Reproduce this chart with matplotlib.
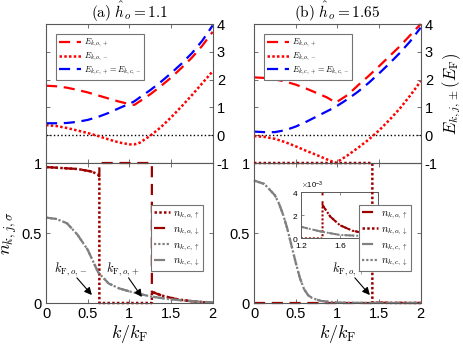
import matplotlib
matplotlib.use('Agg')
import matplotlib.pyplot as plt
import numpy as np

plt.rcParams['font.family'] = 'Liberation Sans'
plt.rcParams['mathtext.fontset'] = 'cm'

# ---- energies (top panels) ----
k_top = [0, 0.125, 0.25, 0.375, 0.5, 0.625, 0.75, 0.875, 1.0, 1.06, 1.125,
         1.25, 1.375, 1.5, 1.625, 1.75, 1.875, 2.0]
Ec_a = [0.43, 0.43, 0.44, 0.48, 0.55, 0.66, 0.80, 0.97, 1.13, 1.22, 1.36,
        1.62, 1.91, 2.23, 2.57, 2.95, 3.40, 3.95]
Eop_a = [1.78, 1.76, 1.71, 1.63, 1.54, 1.43, 1.32, 1.21, 1.12, 1.09, 1.22,
         1.47, 1.76, 2.07, 2.42, 2.79, 3.22, 3.72]
Eom_a = [0.36, 0.33, 0.26, 0.17, 0.08, -0.03, -0.15, -0.26, -0.33, -0.33, -0.27,
         -0.02, 0.28, 0.64, 1.03, 1.44, 1.87, 2.30]

k_top_b = [0, 0.125, 0.25, 0.375, 0.5, 0.625, 0.75, 0.875, 0.98, 1.125,
           1.25, 1.375, 1.5, 1.625, 1.75, 1.875, 2.0]
Ec_b = [0.13, 0.11, 0.11, 0.18, 0.31, 0.48, 0.67, 0.86, 1.02, 1.30,
        1.57, 1.88, 2.22, 2.58, 2.96, 3.38, 3.87]
Eop_b = [2.08, 2.06, 2.01, 1.93, 1.82, 1.68, 1.52, 1.36, 1.17, 1.45,
         1.80, 2.13, 2.48, 2.84, 3.20, 3.60, 4.0]
Eom_b = [-0.03, -0.06, -0.13, -0.25, -0.40, -0.56, -0.71, -0.87, -1.0, -0.72,
         -0.45, -0.16, 0.17, 0.55, 0.96, 1.43, 1.94]

# ---- occupations (bottom panels) ----
# panel (a)
k_na = [0, 0.38, 0.54, 0.62, 0.64, 0.64, 1.27, 1.27, 1.35, 1.42, 1.5, 1.58,
        1.7, 1.8, 1.9, 2.0]
n_up_a = [0.971, 0.957, 0.940, 0.921, 0.904, 0, 0, 0.08, 0.062, 0.048, 0.037,
          0.026, 0.016, 0.010, 0.005, 0.003]
n_dn_a = [0.971, 0.957, 0.940, 0.921, 0.904, 1, 1, 0.08, 0.062, 0.048, 0.037,
          0.026, 0.016, 0.010, 0.005, 0.003]
k_ca = [0, 0.125, 0.25, 0.375, 0.5, 0.625, 0.75, 0.875, 1.0, 1.125, 1.25,
        1.375, 1.5, 1.625, 1.75, 1.875, 2.0]
n_c_a = [0.61, 0.60, 0.57, 0.49, 0.38, 0.22, 0.14, 0.105, 0.083, 0.064, 0.048,
         0.036, 0.026, 0.019, 0.013, 0.008, 0.005]

# panel (b)
k_nb = [0, 1.42, 1.42, 1.5, 1.6, 1.73, 1.9, 2.0]
n_up_b = [0, 0, 0.0029, 0.0019, 0.00115, 0.00067, 0.00038, 0.00029]
n_dn_b = [1, 1, 0.0029, 0.0019, 0.00115, 0.00067, 0.00038, 0.00029]
k_cb = [0, 0.125, 0.25, 0.3, 0.35, 0.4, 0.45, 0.5, 0.55, 0.6, 0.65, 0.7,
        0.8, 1.0, 1.2, 1.4, 1.6, 2.0]
n_c_b = [0.875, 0.85, 0.77, 0.71, 0.63, 0.53, 0.41, 0.29, 0.18, 0.10, 0.055,
         0.035, 0.015, 0.003, 0.0010, 0.0006, 0.0003, 0.00014]

titles = [r'$\mathrm{(a)}\ \hat{h}_o\mathrm{=1.1}$', r'$\mathrm{(b)}\ \hat{h}_o\mathrm{=1.65}$']

red = '#ff0000'
blue = '#0000ff'
dred = '#9b0000'
gray = '0.5'
spine = '0.35'
DASH = (0, (5, 3))
DOT = (0, (1, 0.9))

fig = plt.figure(figsize=(4.63, 3.48), dpi=100)

lefts = [0.0994, 0.5486]
w = 0.36


def style(ax):
    for s in ax.spines.values():
        s.set_color(spine)
        s.set_linewidth(0.8)
    ax.tick_params(direction='in', length=3, width=0.6, color=spine,
                   top=True, right=True, labelsize=10.5, pad=3)
    ax.set_xlim(0, 2)
    ax.set_xticks([0, 0.5, 1, 1.5, 2])


tops = []
bots = []
for i in range(2):
    at = fig.add_axes([lefts[i], 0.5316, w, 0.3994])
    ab = fig.add_axes([lefts[i], 0.1293, w, 0.4023])
    style(at)
    style(ab)
    at.set_ylim(-1, 4)
    at.set_yticks([-1, 0, 1, 2, 3, 4])
    at.set_yticklabels(['-1', '0', '1', '2', '3', '4'])
    at.tick_params(labelleft=False, labelright=True, labelbottom=False)
    at.set_title(titles[i], fontsize=11, pad=3)
    at.axhline(0, color='k', ls=':', lw=1.0)
    ab.set_ylim(0, 1)
    ab.set_yticks([0, 0.5, 1])
    ab.set_yticklabels(['0', '0.5', '1'])
    ab.set_xticklabels(['0', '0.5', '1', '1.5', '2'])
    ab.set_xlabel(r'$k/k_\mathrm{F}$', fontsize=13, labelpad=1)
    tops.append(at)
    bots.append(ab)

# top panels
for ax, kk, eop, eom, ec in [(tops[0], k_top, Eop_a, Eom_a, Ec_a),
                             (tops[1], k_top_b, Eop_b, Eom_b, Ec_b)]:
    ax.plot(kk, eop, color=red, ls=DASH, lw=1.6, label=r'$E_{k,o,+}$', clip_on=False)
    ax.plot(kk, eom, color=red, ls=DOT, lw=1.8, label=r'$E_{k,o,-}$', clip_on=False)
    ax.plot(kk, ec, color=blue, ls=DASH, lw=1.6,
            label=r'$E_{k,c,+}=E_{k,c,-}$', clip_on=False)
    lg = ax.legend(loc='upper left', bbox_to_anchor=(0.06, 0.93), fontsize=6,
                   handlelength=2.6, handletextpad=0.4, borderpad=0.35,
                   labelspacing=0.15, fancybox=False, framealpha=1,
                   borderaxespad=0)
    lg.get_frame().set_edgecolor('0.45')
    lg.get_frame().set_linewidth(0.8)

tops[1].set_ylabel(r'$E_{k,j,\pm}(E_\mathrm{F})$', fontsize=12, labelpad=2)
tops[1].yaxis.set_label_position('right')

# bottom (a)
ax = bots[0]
ax.plot(k_na, n_up_a, color=dred, ls=DOT, lw=1.8, label=r'$n_{k,o,\uparrow}$', clip_on=False)
ax.plot(k_na, n_dn_a, color=dred, ls=(0, (5, 3)), lw=1.6, label=r'$n_{k,o,\downarrow}$', clip_on=False)
ax.plot(k_ca, n_c_a, color=gray, ls=DOT, lw=1.6, label=r'$n_{k,c,\uparrow}$', clip_on=False)
ax.plot(k_ca, n_c_a, color=gray, ls=(0, (5, 3)), lw=1.6, label=r'$n_{k,c,\downarrow}$', clip_on=False)
ax.set_ylabel(r'$n_{k,j,\sigma}$', fontsize=13, labelpad=2)

# bottom (b)
ax = bots[1]
ax.plot(k_nb, n_up_b, color=dred, ls=(0, (5, 3)), lw=1.6, label=r'$n_{k,o,\uparrow}$', clip_on=False)
ax.plot(k_nb, n_dn_b, color=dred, ls=DOT, lw=1.8, label=r'$n_{k,o,\downarrow}$', clip_on=False)
ax.plot(k_cb, n_c_b, color=gray, ls=(0, (5, 3)), lw=1.6, label=r'$n_{k,c,\uparrow}$', clip_on=False)
ax.plot(k_cb, n_c_b, color=gray, ls=DOT, lw=1.6, label=r'$n_{k,c,\downarrow}$', clip_on=False)

for ax in bots:
    lg = ax.legend(loc='upper left', bbox_to_anchor=(0.63, 0.70), fontsize=7.5,
                   handlelength=1.5, handletextpad=0.3, borderpad=0.3,
                   labelspacing=0.25, fancybox=False, framealpha=1,
                   borderaxespad=0)
    lg.get_frame().set_edgecolor('0.45')
    lg.get_frame().set_linewidth(0.8)

# arrows
arrow = dict(arrowstyle='-|>', color='k', lw=0.8, mutation_scale=11,
             shrinkA=0, shrinkB=0)
bots[0].text(0.1, 0.24, r'$k_{\mathrm{F},o,-}$', fontsize=9, va='center')
bots[0].annotate('', xy=(0.55, 0.057), xytext=(0.37, 0.18), arrowprops=arrow)
bots[0].text(0.72, 0.24, r'$k_{\mathrm{F},o,+}$', fontsize=9, va='center')
bots[0].annotate('', xy=(1.15, 0.043), xytext=(0.99, 0.18), arrowprops=arrow)
bots[1].text(0.93, 0.24, r'$k_{\mathrm{F},o,+}$', fontsize=9, va='center')
bots[1].annotate('', xy=(1.39, 0.057), xytext=(1.21, 0.18), arrowprops=arrow)

# inset in (b), kept under the main axes so the legend sits on top
ins = fig.add_axes([0.651, 0.315, 0.166, 0.132])
ins.set_zorder(1)
bots[1].set_zorder(2)
bots[1].patch.set_alpha(0)
for s in ins.spines.values():
    s.set_color(spine)
    s.set_linewidth(0.7)
ins.plot(k_nb, n_up_b, color=dred, ls=DOT, lw=1.5)
ins.plot(k_nb, n_dn_b, color=dred, ls=(0, (5, 3)), lw=1.4)
ins.plot(k_cb, n_c_b, color=gray, ls=DOT, lw=1.4)
ins.plot(k_cb, n_c_b, color=gray, ls=(0, (5, 3)), lw=1.4)
ins.set_xlim(1.2, 2)
ins.set_ylim(0, 0.004)
ins.set_xticks([1.2, 1.6, 2])
ins.set_xticklabels(['1.2', '1.6', '2'])
ins.set_yticks([0, 0.002, 0.004])
ins.ticklabel_format(axis='y', style='sci', scilimits=(0, 0), useMathText=True)
ins.yaxis.get_offset_text().set_fontsize(5.5)
ins.tick_params(direction='in', length=2, width=0.5, color=spine,
                top=True, right=True, labelsize=6, pad=2)
ins.tick_params(axis='x', pad=3.5)

fig.savefig('out.png', dpi=100)
